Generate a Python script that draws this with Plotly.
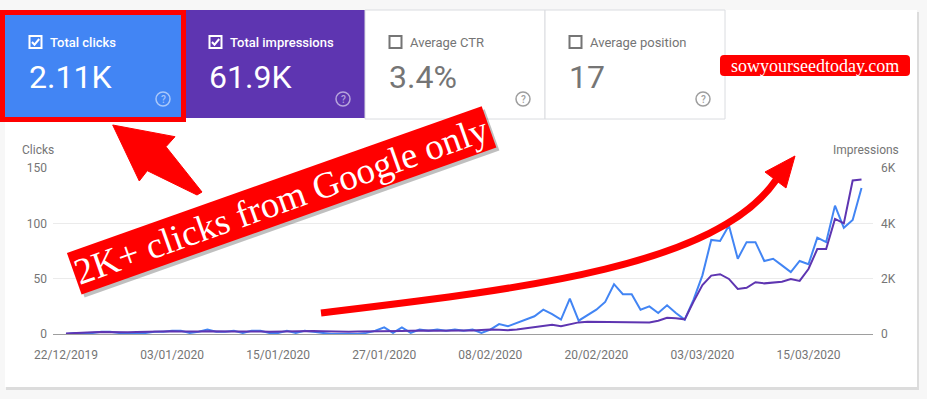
import pandas as pd
import plotly.graph_objects as go

# ---------------- data ----------------
start_date = "2019-12-22"
n_days = 91

clicks = [0, 1, 1, 1, 2, 2, 1, 1, 1, 1, 2, 2, 3, 3, 1, 2, 4, 2, 2, 3, 1, 3, 3, 1, 1, 3, 1, 3, 2, 1, 0, 0,
          0, 0, 1, 3, 6, 1, 6, 1, 4, 3, 4, 3, 4, 3, 4, 1, 4,
          9, 7, 10, 13, 16, 22, 18, 13, 32, 12, 17, 22, 29, 45, 36, 36,
          22, 25, 19, 26, 19, 13, 31, 53, 85, 84, 98, 68, 83, 83, 66, 68, 62, 56, 66, 63, 87, 83, 116, 96, 103, 132]

impressions = [20, 40, 50, 60, 70, 60, 50, 60, 70, 80, 80, 90, 100, 90, 80, 90, 100, 90, 80, 90, 90, 100, 90, 80,
               90, 100, 110, 100, 110, 100, 90, 80,
               80, 90, 90, 100, 110, 100, 110, 120, 130, 130, 120, 130, 120, 130, 130, 150, 160,
               150, 140, 160, 200, 260, 300, 330, 280, 350, 420, 440, 440, 440, 440, 440, 420,
               420, 420, 480, 590, 570, 530, 1170, 1770, 2110, 2160, 1990, 1630, 1670, 1870, 1830, 1850, 1890,
               1990, 1920, 2350, 3070, 3070, 4160, 4000, 5550, 5580]

x_tick_dates = ["2019-12-22", "2020-01-03", "2020-01-15", "2020-01-27", "2020-02-08", "2020-02-20", "2020-03-03", "2020-03-15"]
x_tick_labels = ["22/12/2019", "03/01/2020", "15/01/2020", "27/01/2020", "08/02/2020", "20/02/2020", "03/03/2020", "15/03/2020"]
y1_ticks = [0, 50, 100, 150]
y1_labels = ["0", "50", "100", "150"]
y2_ticks = [0, 2000, 4000, 6000]
y2_labels = ["0", "2K", "4K", "6K"]

card_titles = ["Total clicks", "Total impressions", "Average CTR", "Average position"]
card_values = ["2.11K", "61.9K", "3.4%", "17"]
card_checked = [True, True, False, False]

annotation_text = "2K+ clicks from Google only"
watermark_text = "sowyourseedtoday.com"

# ---------------- layout geometry ----------------
W, H = 927, 399
L, R, T, B = 53, 54, 168, 65
PW, PH = W - L - R, H - T - B

def px(x):
    return (x - L) / PW

def py(y):
    return (H - B - y) / PH

dates = pd.date_range(start_date, periods=n_days, freq="D")
x0 = pd.Timestamp(start_date) - pd.Timedelta(days=1.47)
x1 = pd.Timestamp(start_date) + pd.Timedelta(days=91.3)

BLUE = "#4285f4"
PURPLE = "#5e35b1"
GRAY_TXT = "#757575"
RED = "#ff0000"

fig = go.Figure()
fig.add_trace(go.Scatter(x=dates, y=impressions, yaxis="y2", mode="lines",
                         line=dict(color=PURPLE, width=2), hoverinfo="skip"))
fig.add_trace(go.Scatter(x=dates, y=clicks, yaxis="y", mode="lines",
                         line=dict(color=BLUE, width=2), hoverinfo="skip"))

shapes = []
annotations = []

def rect(xa, ya, xb, yb, fill=None, line_color=None, lw=0, layer="below"):
    shapes.append(dict(type="rect", xref="paper", yref="paper",
                       x0=px(xa), x1=px(xb), y0=py(yb), y1=py(ya),
                       fillcolor=fill if fill else "rgba(0,0,0,0)",
                       line=dict(color=line_color if line_color else "rgba(0,0,0,0)", width=lw),
                       layer=layer))

def path(pts, fill=None, line_color=None, lw=0, closed=True, layer="above", curve=None):
    if curve is None:
        d = "M " + " L ".join(f"{px(a):.5f},{py(b):.5f}" for a, b in pts)
        if closed:
            d += " Z"
    else:
        d = curve
    shapes.append(dict(type="path", xref="paper", yref="paper", path=d,
                       fillcolor=fill if fill else "rgba(0,0,0,0)",
                       line=dict(color=line_color if line_color else "rgba(0,0,0,0)", width=lw),
                       layer=layer))

def text(x, y, s, size=12, color=GRAY_TXT, anchor="left", family="Roboto", weight=None, **kw):
    f = dict(family=family, size=size, color=color)
    if weight:
        f["weight"] = weight
    annotations.append(dict(xref="paper", yref="paper", x=px(x), y=py(y), text=s,
                            showarrow=False, xanchor=anchor, yanchor="middle",
                            font=f, borderpad=0, **kw))

# main card with soft shadow
rect(6, 12, 919, 390, fill="#dcdcdc")
rect(5, 10, 917, 387, fill="#ffffff")

# metric tabs
tab_x = [5, 185, 365, 545]
tab_w = 180
tab_fill = [BLUE, PURPLE, "#ffffff", "#ffffff"]
for i in range(4):
    xa = tab_x[i]
    if i < 2:
        rect(xa, 10, xa + tab_w, 118, fill=tab_fill[i])
        c = "#ffffff"
        help_c = "rgba(255,255,255,0.55)"
    else:
        rect(xa, 10, xa + tab_w, 119, fill="#ffffff", line_color="#dadce0", lw=1)
        c = GRAY_TXT
        help_c = "#9e9e9e"
    cb_x = xa + 24.5
    # checkbox
    rect(cb_x, 36, cb_x + 12, 48, line_color=c if i < 2 else "#757575", lw=2, layer="above")
    if card_checked[i]:
        path([(cb_x + 2.5, 42), (cb_x + 5, 44.7), (cb_x + 9.7, 39)], line_color=c, lw=2, closed=False)
    text(xa + 44, 42, card_titles[i], size=13, color=c, weight=500 if i < 2 else None)
    text(xa + 23, 77, card_values[i], size=32, color=c)
    # help icon
    hx = xa + 158
    shapes.append(dict(type="circle", xref="paper", yref="paper",
                       x0=px(hx - 7), x1=px(hx + 7), y0=py(106), y1=py(92),
                       line=dict(color=help_c, width=1.5), layer="above"))
    text(hx, 99.5, "?", size=10, color=help_c, anchor="center", weight=500)

# red highlight border around first tab
rect(2.5, 12.5, 183.5, 119.5, line_color=RED, lw=5, layer="above")

# watermark
shapes.append(dict(type="path", xref="paper", yref="paper", layer="above",
                   path=(f"M {px(724):.5f},{py(55):.5f} L {px(906):.5f},{py(55):.5f} "
                         f"Q {px(910):.5f},{py(55):.5f} {px(910):.5f},{py(59):.5f} "
                         f"L {px(910):.5f},{py(72):.5f} Q {px(910):.5f},{py(76):.5f} {px(906):.5f},{py(76):.5f} "
                         f"L {px(724):.5f},{py(76):.5f} Q {px(720):.5f},{py(76):.5f} {px(720):.5f},{py(72):.5f} "
                         f"L {px(720):.5f},{py(59):.5f} Q {px(720):.5f},{py(55):.5f} {px(724):.5f},{py(55):.5f} Z"),
                   fillcolor=RED, line=dict(width=0)))
text(815, 66, watermark_text, size=18, color="#ffffff", anchor="center", family="Liberation Serif")

# thick arrow pointing at the clicks tab
path([(112.7, 125), (175, 136.7), (166, 146.7), (202, 192), (197, 195), (147.3, 170.7), (139.3, 181)],
     fill=RED, line_color=RED, lw=1)

# curved arrow
curve = (f"M {px(321):.5f},{py(313):.5f} C {px(521):.5f},{py(289):.5f} "
         f"{px(716):.5f},{py(267):.5f} {px(776):.5f},{py(180):.5f}")
path(None, line_color=RED, lw=7, curve=curve)
path([(795, 156), (765, 172), (786, 188)], fill=RED, line_color=RED, lw=1)

# axis titles
text(21, 150, "Clicks", size=12, color=GRAY_TXT)
text(900, 150, "Impressions", size=12, color=GRAY_TXT, anchor="right")

# rotated banner (shadow + banner)
annotations.append(dict(xref="paper", yref="paper", x=px(284), y=py(203), text=annotation_text,
                        showarrow=False, xanchor="center", yanchor="middle", textangle=-19.5,
                        font=dict(family="Liberation Serif", size=37, color="rgba(0,0,0,0)"),
                        bgcolor="rgba(0,0,0,0.25)", borderpad=1))
annotations.append(dict(xref="paper", yref="paper", x=px(281), y=py(200), text=annotation_text,
                        showarrow=False, xanchor="center", yanchor="middle", textangle=-19.5,
                        font=dict(family="Liberation Serif", size=37, color="#ffffff"),
                        bgcolor=RED, borderpad=1))

fig.update_layout(
    width=W, height=H,
    margin=dict(l=L, r=R, t=T, b=B, pad=0),
    paper_bgcolor="#f7f7f7",
    plot_bgcolor="rgba(0,0,0,0)",
    showlegend=False,
    font=dict(family="Roboto", size=12, color=GRAY_TXT),
    xaxis=dict(range=[x0, x1], tickmode="array", tickvals=x_tick_dates, ticktext=x_tick_labels,
               showgrid=False, zeroline=False, showline=True, linecolor="#9e9e9e", linewidth=1,
               ticks="", ticklabelstandoff=10, tickfont=dict(size=12, color=GRAY_TXT), fixedrange=True),
    yaxis=dict(range=[0, 150], tickmode="array", tickvals=y1_ticks, ticktext=y1_labels,
               showgrid=True, gridcolor="#ebebeb", gridwidth=1, zeroline=False, showline=False,
               ticks="", ticklabelstandoff=5, tickfont=dict(size=12, color=GRAY_TXT)),
    yaxis2=dict(range=[0, 6000], overlaying="y", side="right", tickmode="array",
                tickvals=y2_ticks, ticktext=y2_labels, showgrid=False, zeroline=False,
                showline=False, ticks="", ticklabelstandoff=7, tickfont=dict(size=12, color=GRAY_TXT)),
    shapes=shapes,
    annotations=annotations,
)

fig.write_html("out.html", config={"displayModeBar": False},
               post_script="document.body.style.margin='0';document.body.style.background='#f7f7f7';")
